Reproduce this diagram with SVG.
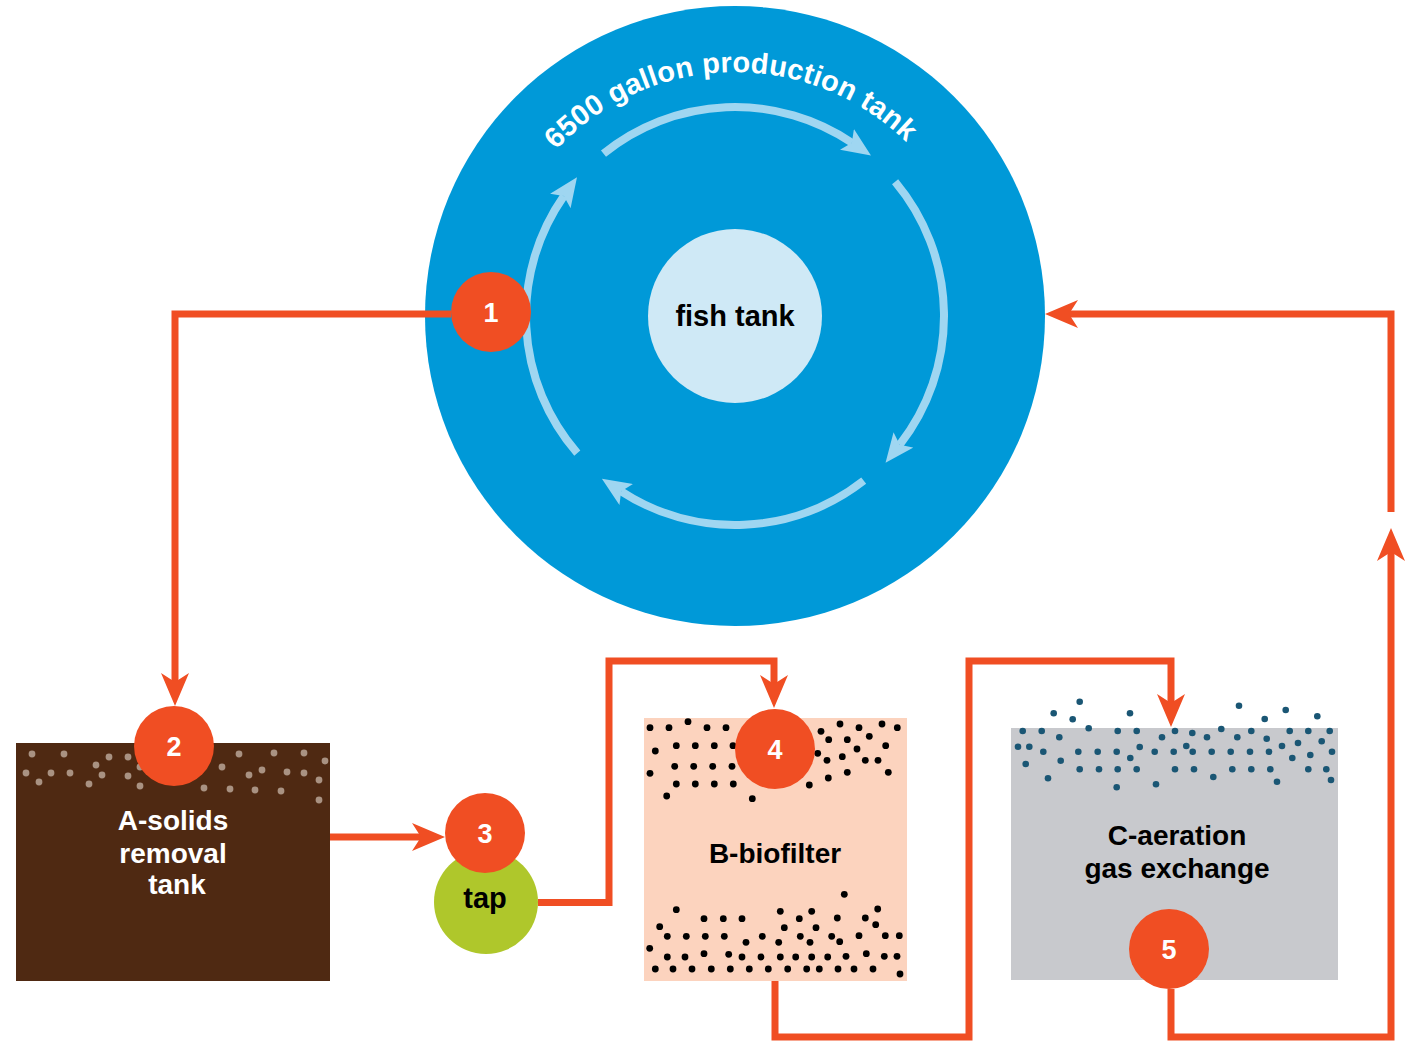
<svg xmlns="http://www.w3.org/2000/svg" width="1405" height="1043" viewBox="0 0 1405 1043">
<style>
text{font-family:"Liberation Sans",Arial,sans-serif;font-weight:bold;text-anchor:middle}
.lbl{font-size:28px}
.num{font-size:27px;fill:#fff}
.badge{fill:#f04e23}
.ring{fill:none;stroke:#9fd6f1;stroke-width:8}
.conn{fill:none;stroke:#f04e23;stroke-width:7;stroke-linejoin:miter}
.sd{fill:#a99282}
.bd{fill:#000}
.ad{fill:#1a5674}
</style>
<defs>
<marker id="ringHead" markerUnits="userSpaceOnUse" markerWidth="29" markerHeight="25" viewBox="0 0 29 25" refX="6" refY="12.5" orient="auto">
<path d="M0,0 L29,12.5 L0,25 L6,12.5 z" fill="#9fd6f1"/>
</marker>
<marker id="head" markerUnits="userSpaceOnUse" markerWidth="33" markerHeight="28" viewBox="0 0 33 28" refX="10" refY="14" orient="auto">
<path d="M0,0 L33,14 L0,28 L9,14 z" fill="#f04e23"/>
</marker>
<path id="titleArc" d="M491,316 A244,244 0 0 1 979,316"/>
</defs>
<rect width="1405" height="1043" fill="#fff"/>

<g id="production-tank">
<circle cx="735" cy="316" r="310" fill="#0099d8"/>
<path class="ring" d="M603.5,153.6 A209,209 0 0 1 851.9,142.7" marker-end="url(#ringHead)"/>
<path class="ring" d="M895.1,181.7 A209,209 0 0 1 899.7,444.7" marker-end="url(#ringHead)"/>
<path class="ring" d="M863.7,480.7 A209,209 0 0 1 621.2,491.3" marker-end="url(#ringHead)"/>
<path class="ring" d="M577.3,453.1 A209,209 0 0 1 563.8,196.1" marker-end="url(#ringHead)"/>
<text style="font-size:29px;letter-spacing:0.2px" fill="#fff"><textPath href="#titleArc" startOffset="49.3%">6500 gallon production tank</textPath></text>
</g>

<g id="fish-tank">
<circle cx="735" cy="316" r="87" fill="#cfe9f6"/>
<text class="lbl" x="735" y="326" fill="#000" style="font-size:29px">fish tank</text>
</g>

<g id="solids-tank">
<rect x="16" y="743" width="314" height="238" fill="#4f2912"/>
<circle class="sd" cx="32" cy="754" r="3.4"/><circle class="sd" cx="64" cy="754" r="3.4"/><circle class="sd" cx="96" cy="765" r="3.4"/><circle class="sd" cx="109" cy="757" r="3.4"/><circle class="sd" cx="128" cy="757" r="3.4"/><circle class="sd" cx="140" cy="767" r="3.4"/><circle class="sd" cx="26" cy="773" r="3.4"/><circle class="sd" cx="51" cy="773" r="3.4"/><circle class="sd" cx="70" cy="773" r="3.4"/><circle class="sd" cx="102" cy="775" r="3.4"/><circle class="sd" cx="128" cy="776" r="3.4"/><circle class="sd" cx="39" cy="782" r="3.4"/><circle class="sd" cx="89" cy="784" r="3.4"/><circle class="sd" cx="140" cy="786" r="3.4"/><circle class="sd" cx="239" cy="754" r="3.4"/><circle class="sd" cx="274" cy="753" r="3.4"/><circle class="sd" cx="304" cy="753" r="3.4"/><circle class="sd" cx="325" cy="761" r="3.4"/><circle class="sd" cx="222" cy="767" r="3.4"/><circle class="sd" cx="262" cy="770" r="3.4"/><circle class="sd" cx="249" cy="775" r="3.4"/><circle class="sd" cx="287" cy="772" r="3.4"/><circle class="sd" cx="304" cy="773" r="3.4"/><circle class="sd" cx="319" cy="780" r="3.4"/><circle class="sd" cx="204" cy="788" r="3.4"/><circle class="sd" cx="230" cy="789" r="3.4"/><circle class="sd" cx="255" cy="790" r="3.4"/><circle class="sd" cx="281" cy="791" r="3.4"/><circle class="sd" cx="319" cy="800" r="3.4"/>
<text class="lbl" fill="#fff"><tspan x="173" y="830">A-solids</tspan><tspan x="173" y="863">removal</tspan><tspan x="177" y="894">tank</tspan></text>
</g>

<g id="tap">
<circle cx="486" cy="902" r="52" fill="#afc72b"/>
<text class="lbl" x="485" y="908" fill="#000" style="font-size:29px">tap</text>
</g>

<g id="biofilter">
<rect x="644" y="718" width="263" height="263" fill="#fcd3be"/>
<circle class="bd" cx="650" cy="727.7" r="3.4"/><circle class="bd" cx="669" cy="727.7" r="3.4"/><circle class="bd" cx="688" cy="721.7" r="3.4"/><circle class="bd" cx="707" cy="727.7" r="3.4"/><circle class="bd" cx="726" cy="727.7" r="3.4"/><circle class="bd" cx="655.3" cy="751" r="3.4"/><circle class="bd" cx="676.3" cy="745.7" r="3.4"/><circle class="bd" cx="695.3" cy="745.7" r="3.4"/><circle class="bd" cx="714.3" cy="745.7" r="3.4"/><circle class="bd" cx="733" cy="745.7" r="3.4"/><circle class="bd" cx="674.7" cy="766.3" r="3.4"/><circle class="bd" cx="693.7" cy="766.3" r="3.4"/><circle class="bd" cx="712.7" cy="766.3" r="3.4"/><circle class="bd" cx="732" cy="766.3" r="3.4"/><circle class="bd" cx="650" cy="773.3" r="3.4"/><circle class="bd" cx="676.3" cy="784" r="3.4"/><circle class="bd" cx="695.3" cy="784" r="3.4"/><circle class="bd" cx="714.3" cy="784" r="3.4"/><circle class="bd" cx="733.3" cy="784" r="3.4"/><circle class="bd" cx="666.7" cy="796" r="3.4"/><circle class="bd" cx="752.3" cy="798.7" r="3.4"/><circle class="bd" cx="821" cy="731.3" r="3.4"/><circle class="bd" cx="840" cy="724" r="3.4"/><circle class="bd" cx="859" cy="727.7" r="3.4"/><circle class="bd" cx="882" cy="724" r="3.4"/><circle class="bd" cx="897.3" cy="727.7" r="3.4"/><circle class="bd" cx="828.7" cy="739.7" r="3.4"/><circle class="bd" cx="847.3" cy="739.7" r="3.4"/><circle class="bd" cx="869.3" cy="736.3" r="3.4"/><circle class="bd" cx="885.7" cy="745.7" r="3.4"/><circle class="bd" cx="817.7" cy="753.3" r="3.4"/><circle class="bd" cx="827" cy="760.3" r="3.4"/><circle class="bd" cx="842.3" cy="756.7" r="3.4"/><circle class="bd" cx="857" cy="749" r="3.4"/><circle class="bd" cx="865.3" cy="760.3" r="3.4"/><circle class="bd" cx="878" cy="760.3" r="3.4"/><circle class="bd" cx="847.3" cy="772.3" r="3.4"/><circle class="bd" cx="888.3" cy="772.3" r="3.4"/><circle class="bd" cx="828.3" cy="778" r="3.4"/><circle class="bd" cx="809.3" cy="785" r="3.4"/>
<circle class="bd" cx="844.3" cy="894.3" r="3.4"/><circle class="bd" cx="676.3" cy="909.7" r="3.4"/><circle class="bd" cx="704" cy="918.7" r="3.4"/><circle class="bd" cx="723.3" cy="918.7" r="3.4"/><circle class="bd" cx="742" cy="918.7" r="3.4"/><circle class="bd" cx="780.3" cy="911.3" r="3.4"/><circle class="bd" cx="799.3" cy="918.7" r="3.4"/><circle class="bd" cx="811.7" cy="911.3" r="3.4"/><circle class="bd" cx="837.3" cy="918" r="3.4"/><circle class="bd" cx="865.3" cy="918" r="3.4"/><circle class="bd" cx="877.7" cy="909" r="3.4"/><circle class="bd" cx="659.7" cy="926.7" r="3.4"/><circle class="bd" cx="784.3" cy="927.7" r="3.4"/><circle class="bd" cx="816" cy="927.7" r="3.4"/><circle class="bd" cx="875.7" cy="924.7" r="3.4"/><circle class="bd" cx="667.3" cy="936.3" r="3.4"/><circle class="bd" cx="686.3" cy="936.3" r="3.4"/><circle class="bd" cx="705.3" cy="936.3" r="3.4"/><circle class="bd" cx="724.3" cy="936.3" r="3.4"/><circle class="bd" cx="762.3" cy="936.3" r="3.4"/><circle class="bd" cx="800.3" cy="936.3" r="3.4"/><circle class="bd" cx="831.7" cy="936.3" r="3.4"/><circle class="bd" cx="859" cy="935.7" r="3.4"/><circle class="bd" cx="885.3" cy="935.7" r="3.4"/><circle class="bd" cx="899.3" cy="935.7" r="3.4"/><circle class="bd" cx="746" cy="942.3" r="3.4"/><circle class="bd" cx="778.7" cy="942.3" r="3.4"/><circle class="bd" cx="810" cy="942.3" r="3.4"/><circle class="bd" cx="839.7" cy="941.7" r="3.4"/><circle class="bd" cx="649.7" cy="948.3" r="3.4"/><circle class="bd" cx="667.3" cy="957" r="3.4"/><circle class="bd" cx="685" cy="957" r="3.4"/><circle class="bd" cx="704" cy="953.7" r="3.4"/><circle class="bd" cx="728.7" cy="954.3" r="3.4"/><circle class="bd" cx="742" cy="957" r="3.4"/><circle class="bd" cx="761" cy="957" r="3.4"/><circle class="bd" cx="780.3" cy="957" r="3.4"/><circle class="bd" cx="795.7" cy="957" r="3.4"/><circle class="bd" cx="811.7" cy="957" r="3.4"/><circle class="bd" cx="827.7" cy="957" r="3.4"/><circle class="bd" cx="846" cy="956.3" r="3.4"/><circle class="bd" cx="866.3" cy="953.7" r="3.4"/><circle class="bd" cx="884.3" cy="956.3" r="3.4"/><circle class="bd" cx="897" cy="956.3" r="3.4"/><circle class="bd" cx="655.3" cy="969" r="3.4"/><circle class="bd" cx="673" cy="969" r="3.4"/><circle class="bd" cx="692" cy="969" r="3.4"/><circle class="bd" cx="711.3" cy="969" r="3.4"/><circle class="bd" cx="730.3" cy="969" r="3.4"/><circle class="bd" cx="749.3" cy="969" r="3.4"/><circle class="bd" cx="768.3" cy="969" r="3.4"/><circle class="bd" cx="787.7" cy="969" r="3.4"/><circle class="bd" cx="806.7" cy="969" r="3.4"/><circle class="bd" cx="819.3" cy="969" r="3.4"/><circle class="bd" cx="838" cy="969" r="3.4"/><circle class="bd" cx="854" cy="969" r="3.4"/><circle class="bd" cx="873" cy="969" r="3.4"/><circle class="bd" cx="900" cy="974" r="3.4"/>
<text class="lbl" x="775" y="863" fill="#000">B-biofilter</text>
</g>

<g id="aeration">
<rect x="1011" y="728" width="327" height="252" fill="#c8c9cd"/>
<circle class="ad" cx="1079.7" cy="701.7" r="3.3"/><circle class="ad" cx="1053.7" cy="713.3" r="3.3"/><circle class="ad" cx="1072.7" cy="719.3" r="3.3"/><circle class="ad" cx="1130" cy="713.3" r="3.3"/><circle class="ad" cx="1088.7" cy="728.3" r="3.3"/><circle class="ad" cx="1022.7" cy="731" r="3.3"/><circle class="ad" cx="1041.7" cy="731" r="3.3"/><circle class="ad" cx="1059.3" cy="737.3" r="3.3"/><circle class="ad" cx="1117.7" cy="731" r="3.3"/><circle class="ad" cx="1136.7" cy="731" r="3.3"/><circle class="ad" cx="1162" cy="737.3" r="3.3"/><circle class="ad" cx="1175" cy="731" r="3.3"/><circle class="ad" cx="1192.3" cy="733" r="3.3"/><circle class="ad" cx="1207" cy="737.3" r="3.3"/><circle class="ad" cx="1221.3" cy="729" r="3.3"/><circle class="ad" cx="1239" cy="705.7" r="3.3"/><circle class="ad" cx="1237.3" cy="737.3" r="3.3"/><circle class="ad" cx="1251.3" cy="731" r="3.3"/><circle class="ad" cx="1264.7" cy="719" r="3.3"/><circle class="ad" cx="1266.7" cy="738.7" r="3.3"/><circle class="ad" cx="1285.7" cy="710" r="3.3"/><circle class="ad" cx="1289.7" cy="731" r="3.3"/><circle class="ad" cx="1308.3" cy="731" r="3.3"/><circle class="ad" cx="1317.3" cy="716.3" r="3.3"/><circle class="ad" cx="1329.7" cy="731" r="3.3"/><circle class="ad" cx="1018" cy="746.7" r="3.3"/><circle class="ad" cx="1029.3" cy="746.7" r="3.3"/><circle class="ad" cx="1043.3" cy="751.7" r="3.3"/><circle class="ad" cx="1078.3" cy="751.7" r="3.3"/><circle class="ad" cx="1097.7" cy="751.7" r="3.3"/><circle class="ad" cx="1116.7" cy="751.7" r="3.3"/><circle class="ad" cx="1139.7" cy="747" r="3.3"/><circle class="ad" cx="1154.7" cy="751.7" r="3.3"/><circle class="ad" cx="1173.7" cy="751.7" r="3.3"/><circle class="ad" cx="1186.3" cy="746" r="3.3"/><circle class="ad" cx="1192.7" cy="751.7" r="3.3"/><circle class="ad" cx="1211.7" cy="751.7" r="3.3"/><circle class="ad" cx="1230.7" cy="751.7" r="3.3"/><circle class="ad" cx="1250" cy="751.7" r="3.3"/><circle class="ad" cx="1269" cy="751.7" r="3.3"/><circle class="ad" cx="1282" cy="746" r="3.3"/><circle class="ad" cx="1298" cy="743" r="3.3"/><circle class="ad" cx="1321.7" cy="741.3" r="3.3"/><circle class="ad" cx="1332" cy="751.7" r="3.3"/><circle class="ad" cx="1025.7" cy="764" r="3.3"/><circle class="ad" cx="1060.7" cy="760.7" r="3.3"/><circle class="ad" cx="1130.3" cy="758" r="3.3"/><circle class="ad" cx="1292.3" cy="758" r="3.3"/><circle class="ad" cx="1310.3" cy="755" r="3.3"/><circle class="ad" cx="1079.7" cy="769.3" r="3.3"/><circle class="ad" cx="1099" cy="769.3" r="3.3"/><circle class="ad" cx="1117.7" cy="769.3" r="3.3"/><circle class="ad" cx="1136.7" cy="769.3" r="3.3"/><circle class="ad" cx="1175" cy="769.3" r="3.3"/><circle class="ad" cx="1194" cy="769.3" r="3.3"/><circle class="ad" cx="1232.3" cy="769.3" r="3.3"/><circle class="ad" cx="1251.3" cy="769.3" r="3.3"/><circle class="ad" cx="1270.3" cy="769.3" r="3.3"/><circle class="ad" cx="1308.3" cy="769.3" r="3.3"/><circle class="ad" cx="1326.3" cy="769.3" r="3.3"/><circle class="ad" cx="1048" cy="778.3" r="3.3"/><circle class="ad" cx="1213.3" cy="777" r="3.3"/><circle class="ad" cx="1277" cy="781.7" r="3.3"/><circle class="ad" cx="1331" cy="780" r="3.3"/><circle class="ad" cx="1116.7" cy="787.3" r="3.3"/><circle class="ad" cx="1156" cy="784.3" r="3.3"/>
<text class="lbl" fill="#000"><tspan x="1177" y="845">C-aeration</tspan><tspan x="1177" y="878">gas exchange</tspan></text>
</g>

<g id="connectors">
<path class="conn" d="M451,314 H175 V683" marker-end="url(#head)"/>
<path class="conn" d="M330,837 H422" marker-end="url(#head)"/>
<path class="conn" d="M538,902.5 H609 V661 H774 V685" marker-end="url(#head)"/>
<path class="conn" d="M775,981 V1037 H969 V661 H1171 V704" marker-end="url(#head)"/>
<path class="conn" d="M1171,989 V1037 H1391 V551" marker-end="url(#head)"/>
<path class="conn" d="M1391,512 V314 H1068" marker-end="url(#head)"/>
</g>

<g id="badge-1"><circle class="badge" cx="491" cy="312" r="40"/><text class="num" x="491" y="322">1</text></g>
<g id="badge-2"><circle class="badge" cx="174" cy="746" r="40"/><text class="num" x="174" y="756">2</text></g>
<g id="badge-3"><circle class="badge" cx="485" cy="833" r="40"/><text class="num" x="485" y="843">3</text></g>
<g id="badge-4"><circle class="badge" cx="775" cy="749" r="40"/><text class="num" x="775" y="759">4</text></g>
<g id="badge-5"><circle class="badge" cx="1169" cy="949" r="40"/><text class="num" x="1169" y="959">5</text></g>
</svg>
